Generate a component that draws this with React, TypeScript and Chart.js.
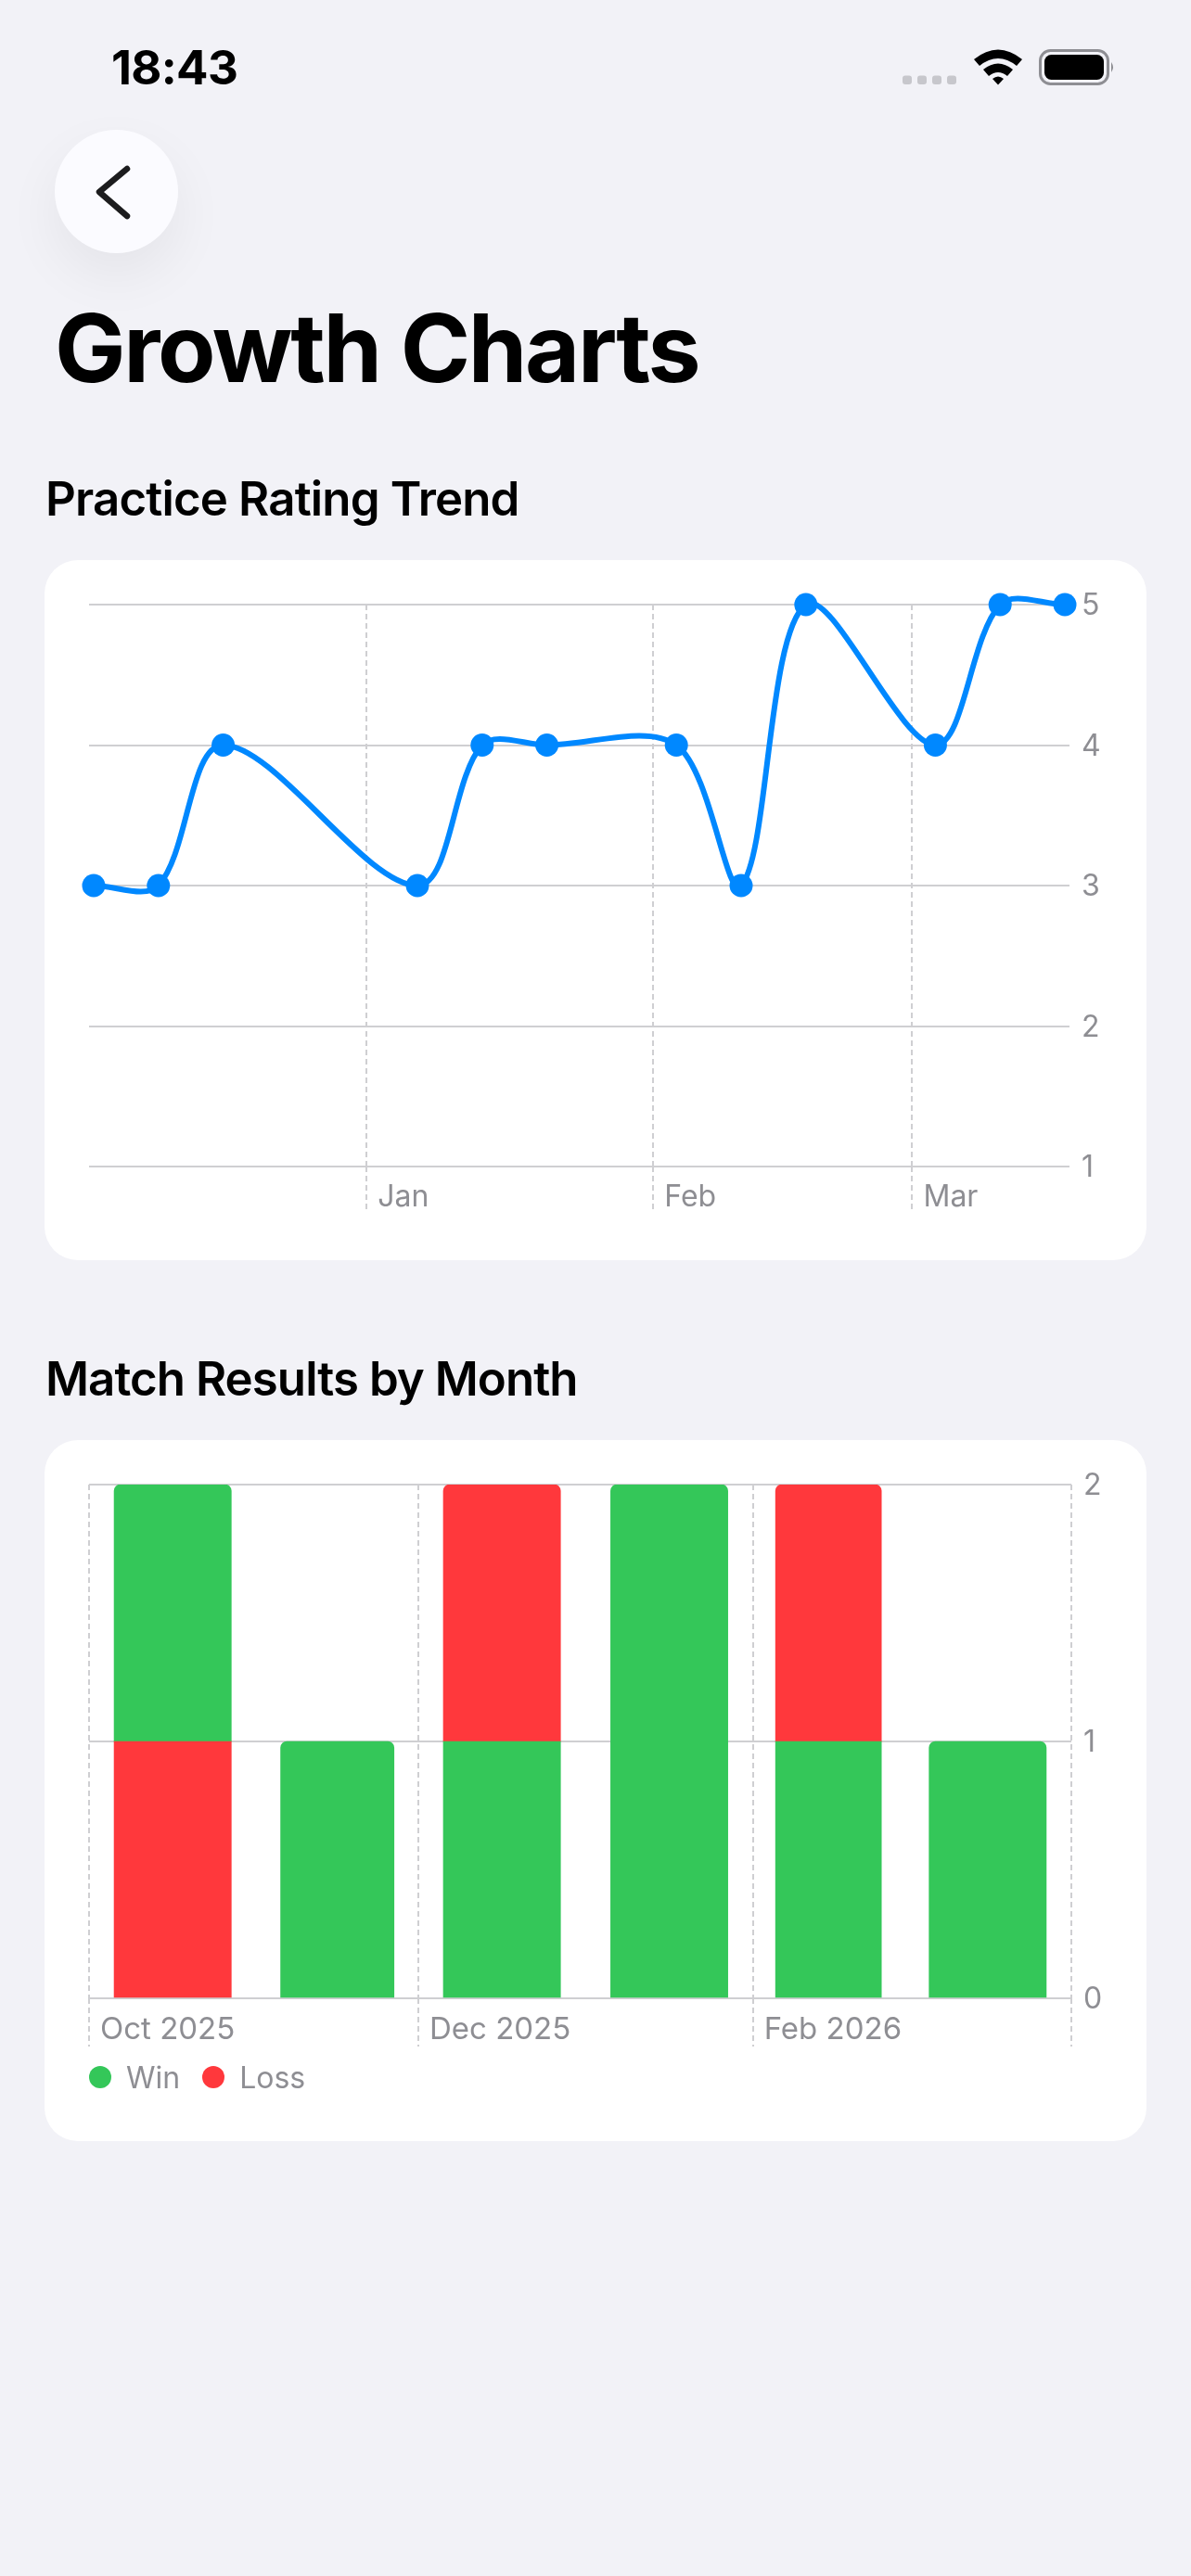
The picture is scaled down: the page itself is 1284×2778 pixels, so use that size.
import { useEffect, useRef } from 'react';
import { Chart, registerables } from 'chart.js';

Chart.register(...registerables);

const FONT = 'Inter, "Noto Sans", sans-serif';
const GRID = '#cfcfd2';
const TICK_TEXT = '#8e8e93';

// Practice ratings, one session a week
const ratingDates = [
  '2025-12-02T12:00Z', '2025-12-09T12:00Z', '2025-12-16T12:00Z',
  '2026-01-06T12:00Z', '2026-01-13T12:00Z', '2026-01-20T12:00Z',
  '2026-02-03T12:00Z', '2026-02-10T12:00Z', '2026-02-17T12:00Z',
  '2026-03-03T12:00Z', '2026-03-10T12:00Z', '2026-03-17T12:00Z',
];
const ratingValues = [3, 3, 4, 3, 4, 4, 4, 3, 5, 4, 5, 5];
const ratingTickDays = [0, 31, 59];
const ratingTickLabels = ['Jan', 'Feb', 'Mar'];
const ratingYTicks = [1, 2, 3, 4, 5];

// Match results by month (Oct 2025 to Mar 2026)
const monthStartDays = [0, 31, 61, 92, 123, 151];
const monthLengths = [31, 30, 31, 31, 28, 31];
const lossBelowWin = [1, null, null, null, null, null];
const wins = [1, 1, 1, 2, 1, 1];
const lossAboveWin = [null, null, 1, null, 1, null];
const matchTickDays = [0, 61, 123, 182];
const matchTickLabels = ['Oct 2025', 'Dec 2025', 'Feb 2026', ''];
const matchYTicks = [0, 1, 2];
const legendNames = ['Win', 'Loss'];
const legendColors = ['#34c759', '#ff383c'];

const JAN_1 = Date.UTC(2026, 0, 1);

function xAxis(min: number, max: number, days: number[], labels: string[], tickLength: number, fontSize: number) {
  return {
    type: 'linear' as const,
    min,
    max,
    offset: false,
    afterBuildTicks: (scale: any) => {
      scale.ticks = days.map((value) => ({ value }));
    },
    afterFit: (scale: any) => {
      scale.height = 60;
    },
    border: { display: false, dash: [6, 4] },
    grid: {
      offset: false,
      color: GRID,
      lineWidth: 2,
      tickColor: GRID,
      tickWidth: 2,
      tickLength,
      tickBorderDash: [6, 4],
    },
    ticks: {
      autoSkip: false,
      maxRotation: 0,
      minRotation: 0,
      align: 'start' as const,
      labelOffset: 12,
      padding: 14 - tickLength,
      color: TICK_TEXT,
      font: { family: FONT, size: fontSize },
      callback: (_value: any, index: number) => labels[index],
    },
  };
}

function yAxis(min: number, max: number, values: number[]) {
  return {
    position: 'right' as const,
    min,
    max,
    afterBuildTicks: (scale: any) => {
      scale.ticks = values.map((value) => ({ value }));
    },
    afterFit: (scale: any) => {
      scale.width = 53;
    },
    border: { display: false },
    grid: { color: GRID, lineWidth: 2, drawTicks: false },
    ticks: {
      padding: 13,
      labelOffset: 1.5,
      color: TICK_TEXT,
      font: { family: FONT, size: 32 },
    },
  };
}

function RatingChart() {
  const canvasRef = useRef<HTMLCanvasElement>(null);

  useEffect(() => {
    if (!canvasRef.current) return;
    const chart = new Chart(canvasRef.current, {
      type: 'line',
      data: {
        datasets: [
          {
            label: 'Rating',
            data: ratingDates.map((d, i) => ({
              x: (Date.parse(d) - JAN_1) / 86400000,
              y: ratingValues[i],
            })),
            borderColor: '#0088ff',
            backgroundColor: '#0088ff',
            borderWidth: 6,
            tension: 0.33,
            capBezierPoints: false,
            pointRadius: 12.5,
            pointBorderWidth: 0,
            clip: false as any,
          },
        ],
      },
      options: {
        animation: false,
        responsive: false,
        devicePixelRatio: 1,
        layout: { padding: { left: 48, top: 48, right: 30, bottom: 41 } },
        plugins: { legend: { display: false }, tooltip: { enabled: false } },
        scales: {
          x: xAxis(-30, 76, ratingTickDays, ratingTickLabels, 48, 32),
          y: yAxis(1, 5, ratingYTicks),
        },
      },
    });
    return () => chart.destroy();
  }, []);

  return (
    <canvas
      ref={canvasRef}
      width={1188}
      height={755}
      style={{ position: 'absolute', left: 48, top: 604, width: 1188, height: 755 }}
    />
  );
}

// bars get their width from the length of their month
const monthWidthPlugin = {
  id: 'monthWidth',
  afterDatasetsUpdate(chart: any) {
    const x = chart.scales.x;
    chart.getSortedVisibleDatasetMetas().forEach((meta: any) => {
      meta.data.forEach((bar: any, i: number) => {
        const start = x.getPixelForValue(monthStartDays[i]);
        const end = x.getPixelForValue(monthStartDays[i] + monthLengths[i]);
        bar.width = (end - start) * 0.7;
      });
    });
  },
};

function topRadius(ctx: any) {
  const all = [lossBelowWin, wins, lossAboveWin];
  let top = 0;
  all.forEach((series, i) => {
    if (series[ctx.dataIndex] != null) top = i;
  });
  const r = ctx.datasetIndex === top ? 7 : 0;
  return { topLeft: r, topRight: r, bottomLeft: 0, bottomRight: 0 };
}

function MatchChart() {
  const canvasRef = useRef<HTMLCanvasElement>(null);

  useEffect(() => {
    if (!canvasRef.current) return;
    const points = (values: (number | null)[]) =>
      values.map((y, i) => ({ x: monthStartDays[i] + monthLengths[i] / 2, y }));
    const chart = new Chart(canvasRef.current, {
      type: 'bar',
      data: {
        datasets: [
          { label: 'Loss', data: points(lossBelowWin), backgroundColor: legendColors[1] },
          { label: 'Win', data: points(wins), backgroundColor: legendColors[0] },
          { label: 'Loss', data: points(lossAboveWin), backgroundColor: legendColors[1] },
        ] as any,
      },
      options: {
        animation: false,
        responsive: false,
        devicePixelRatio: 1,
        layout: { padding: { left: 48, top: 49, right: 28, bottom: 94 } },
        datasets: { bar: { barThickness: 100, borderRadius: topRadius as any, borderSkipped: false as any } },
        plugins: { legend: { display: false }, tooltip: { enabled: false } },
        scales: {
          x: { ...xAxis(0, 182, matchTickDays, matchTickLabels, 52, 33), stacked: true },
          y: { ...yAxis(0, 2, matchYTicks), stacked: true },
        },
      },
      plugins: [monthWidthPlugin],
    });
    return () => chart.destroy();
  }, []);

  return (
    <canvas
      ref={canvasRef}
      width={1188}
      height={757}
      style={{ position: 'absolute', left: 48, top: 1552, width: 1188, height: 757 }}
    />
  );
}

function Text({ x, cy, size, weight, spacing = 0, color = '#000', children }: any) {
  return (
    <div
      style={{
        position: 'absolute',
        left: x,
        top: cy - 50,
        height: 100,
        lineHeight: '100px',
        fontFamily: FONT,
        fontSize: size,
        fontWeight: weight,
        letterSpacing: spacing,
        color,
        whiteSpace: 'nowrap',
      }}
    >
      {children}
    </div>
  );
}

function StatusIcons() {
  return (
    <svg
      width={260}
      height={60}
      viewBox="0 0 260 60"
      style={{ position: 'absolute', left: 960, top: 44 }}
    >
      {[13, 29, 45, 61].map((x) => (
        <rect key={x} x={x} y={37.5} width={10} height={9.5} rx={3} fill="#c7c7cc" />
      ))}
      <path d="M90 20 Q116 -1 142 20 L136 27 Q116 11 96 27 Z" fill="#000" />
      <path d="M100 31 Q116 18 132 31 L126 38 Q116 30 106 38 Z" fill="#000" />
      <path d="M110 41 Q116 36 122 41 L116 47.5 Z" fill="#000" />
      <rect x={161.5} y={10.5} width={73} height={36} rx={11} fill="none" stroke="#8e8e93" strokeWidth={3} />
      <rect x={166} y={15} width={64} height={27} rx={7.5} fill="#000" />
      <path d="M238 23 Q242 28.5 238 34 Z" fill="#8e8e93" />
    </svg>
  );
}

function BackButton() {
  return (
    <div
      style={{
        position: 'absolute',
        left: 59,
        top: 140,
        width: 133,
        height: 133,
        borderRadius: '50%',
        background: '#fbfbff',
        boxShadow: '0 24px 60px rgba(0,0,0,0.06)',
      }}
    >
      <svg width={133} height={133} viewBox="0 0 133 133">
        <path
          d="M78 42 L48 67 L78 93"
          fill="none"
          stroke="#1c1c1e"
          strokeWidth={6.5}
          strokeLinecap="round"
          strokeLinejoin="round"
        />
      </svg>
    </div>
  );
}

function Card({ top, height }: { top: number; height: number }) {
  return (
    <div
      style={{
        position: 'absolute',
        left: 48,
        top,
        width: 1188,
        height,
        borderRadius: 36,
        background: '#fff',
      }}
    />
  );
}

function Legend() {
  return (
    <div
      style={{
        position: 'absolute',
        left: 96,
        top: 2220,
        height: 40,
        display: 'flex',
        alignItems: 'center',
        fontFamily: FONT,
        fontSize: 32,
        color: TICK_TEXT,
      }}
    >
      {legendNames.map((name, i) => (
        <span key={name} style={{ display: 'flex', alignItems: 'center', marginRight: 24 }}>
          <span
            style={{
              width: 24,
              height: 24,
              borderRadius: '50%',
              background: legendColors[i],
              marginRight: 16,
            }}
          />
          {name}
        </span>
      ))}
    </div>
  );
}

export default function App() {
  return (
    <div
      style={{
        position: 'absolute',
        left: 0,
        top: 0,
        width: 1284,
        height: 2778,
        overflow: 'hidden',
        background: '#f2f2f7',
      }}
    >
      <Text x={120} cy={73} size={51} weight={700} spacing={-0.7}>18:43</Text>
      <StatusIcons />
      <BackButton />
      <Text x={59} cy={375} size={102} weight={700} spacing={-2.3}>Growth Charts</Text>
      <Text x={49} cy={538} size={51} weight={600} spacing={-0.85}>Practice Rating Trend</Text>
      <Card top={604} height={755} />
      <RatingChart />
      <Text x={49} cy={1487} size={51} weight={600} spacing={-0.95}>Match Results by Month</Text>
      <Card top={1553} height={756} />
      <MatchChart />
      <Legend />
    </div>
  );
}
